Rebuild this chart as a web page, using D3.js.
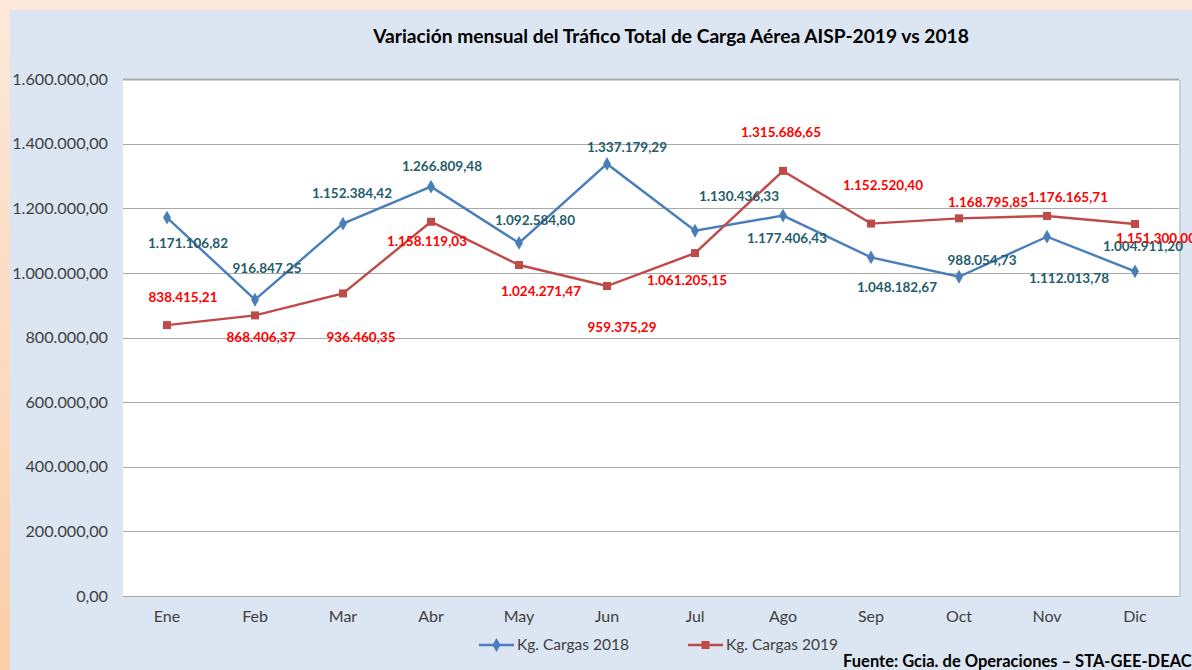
<!DOCTYPE html>
<html><head><meta charset="utf-8">
<script src="https://cdn.jsdelivr.net/npm/d3@7"></script>
<style>
html,body{margin:0;padding:0;overflow:hidden;}
svg{display:block;}
text{font-family:Lato,"Open Sans",sans-serif;}
</style></head>
<body>
<svg id="chart" width="1192" height="670"></svg>
<script>
const months = ["Ene","Feb","Mar","Abr","May","Jun","Jul","Ago","Sep","Oct","Nov","Dic"];
const cargas2018 = [1171106.82, 916847.25, 1152384.42, 1266809.48, 1092584.80, 1337179.29, 1130436.33, 1177406.43, 1048182.67, 988054.73, 1112013.78, 1004911.20];
const cargas2019 = [838415.21, 868406.37, 936460.35, 1158119.03, 1024271.47, 959375.29, 1061205.15, 1315686.65, 1152520.40, 1168795.85, 1176165.71, 1151300.00];
const yTicks = [0, 200000, 400000, 600000, 800000, 1000000, 1200000, 1400000, 1600000];
const seriesNames = ["Kg. Cargas 2018", "Kg. Cargas 2019"];
const title = "Variación mensual del Tráfico Total de Carga Aérea AISP-2019 vs 2018";
const source = "Fuente: Gcia. de Operaciones – STA-GEE-DEAC";

// label offsets (pixels relative to point), layout only
const off2018 = [[21,26],[12,-31],[9,-30],[11,-20],[16,-23],[20,-17],[44,-34],[4,23],[26,30],[23,-16],[22,42],[8,-25]];
const off2019 = [[16,-28],[6,22],[18,44],[-4,19],[22,26],[15,41],[-8,27],[-2,-39],[12,-38],[29,-16],[21,-19],[21,14]];

const svg = d3.select("#chart");
const W = 1192, H = 670;

// background
const defs = svg.append("defs");
const lg = defs.append("linearGradient").attr("id","peach").attr("x1","0").attr("y1","0").attr("x2","0").attr("y2","1");
lg.append("stop").attr("offset","0").attr("stop-color","#fde8d9");
lg.append("stop").attr("offset","1").attr("stop-color","#fbcfa9");
svg.append("rect").attr("width",W).attr("height",H).attr("fill","url(#peach)");
svg.append("rect").attr("x",0).attr("y",0).attr("width",W).attr("height",10).attr("fill","#fde9dc");
svg.append("rect").attr("x",10).attr("y",10).attr("width",W-10).attr("height",H-10).attr("fill","#dce6f2");

const m = {left:123, top:79, right:1179, bottom:596};
const x = d3.scaleBand().domain(months).range([m.left, m.right]).paddingInner(0).paddingOuter(0);
const y = d3.scaleLinear().domain([0,1600000]).range([m.bottom, m.top]);

// plot area
svg.append("rect").attr("x",m.right).attr("y",m.top+1).attr("width",2).attr("height",m.bottom-m.top).attr("fill","#c8d0da");
svg.append("rect").attr("x",m.left).attr("y",m.top).attr("width",m.right-m.left).attr("height",m.bottom-m.top).attr("fill","#ffffff");

const fmt = d3.formatLocale({decimal:",", thousands:".", grouping:[3], currency:["",""]}).format(",.2f");

// gridlines
svg.append("g").selectAll("line").data(yTicks).join("line")
  .attr("x1",m.left).attr("x2",m.right)
  .attr("y1",d=>Math.round(y(d))+0.5).attr("y2",d=>Math.round(y(d))+0.5)
  .attr("stroke","#a9a9a9").attr("stroke-width",d=>d===1600000?2:1.2);

// y axis labels
const yAxis = d3.axisLeft(y).tickValues(yTicks).tickFormat(fmt).tickSize(0).tickPadding(15);
const ya = svg.append("g").attr("transform",`translate(${m.left},0)`).call(yAxis);
ya.select(".domain").remove();
ya.selectAll("text").attr("font-size",16.2).attr("fill","#404040").style("font-family","Lato,'Open Sans',sans-serif");

// x axis labels
const xAxis = d3.axisBottom(x).tickSize(0).tickPadding(15);
const xa = svg.append("g").attr("transform",`translate(0,${m.bottom})`).call(xAxis);
xa.select(".domain").remove();
xa.selectAll("text").attr("font-size",16).attr("fill","#404040").style("font-family","Lato,'Open Sans',sans-serif");

const cx = d => x(d) + x.bandwidth()/2;
const colors = ["#4a7ebb","#be4b48"];
const labelColors = ["#245d6c","#ff0000"];
const series = [cargas2018, cargas2019];
const offsets = [off2018, off2019];

const line = d3.line().x((d,i)=>cx(months[i])).y(d=>y(d));
series.forEach((s,k)=>{
  svg.append("path").datum(s).attr("d",line).attr("fill","none").attr("stroke",colors[k]).attr("stroke-width",2.4);
});
// markers
const diamond = d3.symbol().type(d3.symbolDiamond).size(55);
svg.append("g").selectAll("path").data(cargas2018).join("path")
  .attr("d",diamond).attr("transform",(d,i)=>`translate(${cx(months[i])},${y(d)})`).attr("fill",colors[0]);
svg.append("g").selectAll("rect").data(cargas2019).join("rect")
  .attr("x",(d,i)=>cx(months[i])-4).attr("y",d=>y(d)-4).attr("width",8).attr("height",8).attr("fill",colors[1]);

// data labels
series.forEach((s,k)=>{
  svg.append("g").selectAll("text").data(s).join("text")
    .attr("x",(d,i)=>cx(months[i])+offsets[k][i][0])
    .attr("y",(d,i)=>y(d)+offsets[k][i][1])
    .attr("dy","0.35em").attr("text-anchor","middle")
    .attr("font-size",13.5).attr("font-weight","bold").attr("fill",labelColors[k])
    .text(d=>fmt(d));
});

// title
svg.append("text").attr("x",671).attr("y",43).attr("text-anchor","middle")
  .attr("font-size",19.2).attr("font-weight","bold").attr("fill","#000").text(title);

// legend
const legendX = [479, 688];
seriesNames.forEach((n,k)=>{
  const g = svg.append("g").attr("transform",`translate(${legendX[k]},645)`);
  g.append("line").attr("x1",0).attr("x2",35).attr("y1",0).attr("y2",0).attr("stroke",colors[k]).attr("stroke-width",2.4);
  if(k===0) g.append("path").attr("d",diamond).attr("transform","translate(17.5,0)").attr("fill",colors[k]);
  else g.append("rect").attr("x",13.5).attr("y",-4).attr("width",8).attr("height",8).attr("fill",colors[k]);
  g.append("text").attr("x",38).attr("y",0).attr("dy","0.35em").attr("font-size",15.5).attr("fill","#404040").text(n);
});

// source
svg.append("text").attr("x",843).attr("y",667).attr("font-size",16.5).attr("font-weight","bold").attr("fill","#000").text(source);
</script>
</body></html>
